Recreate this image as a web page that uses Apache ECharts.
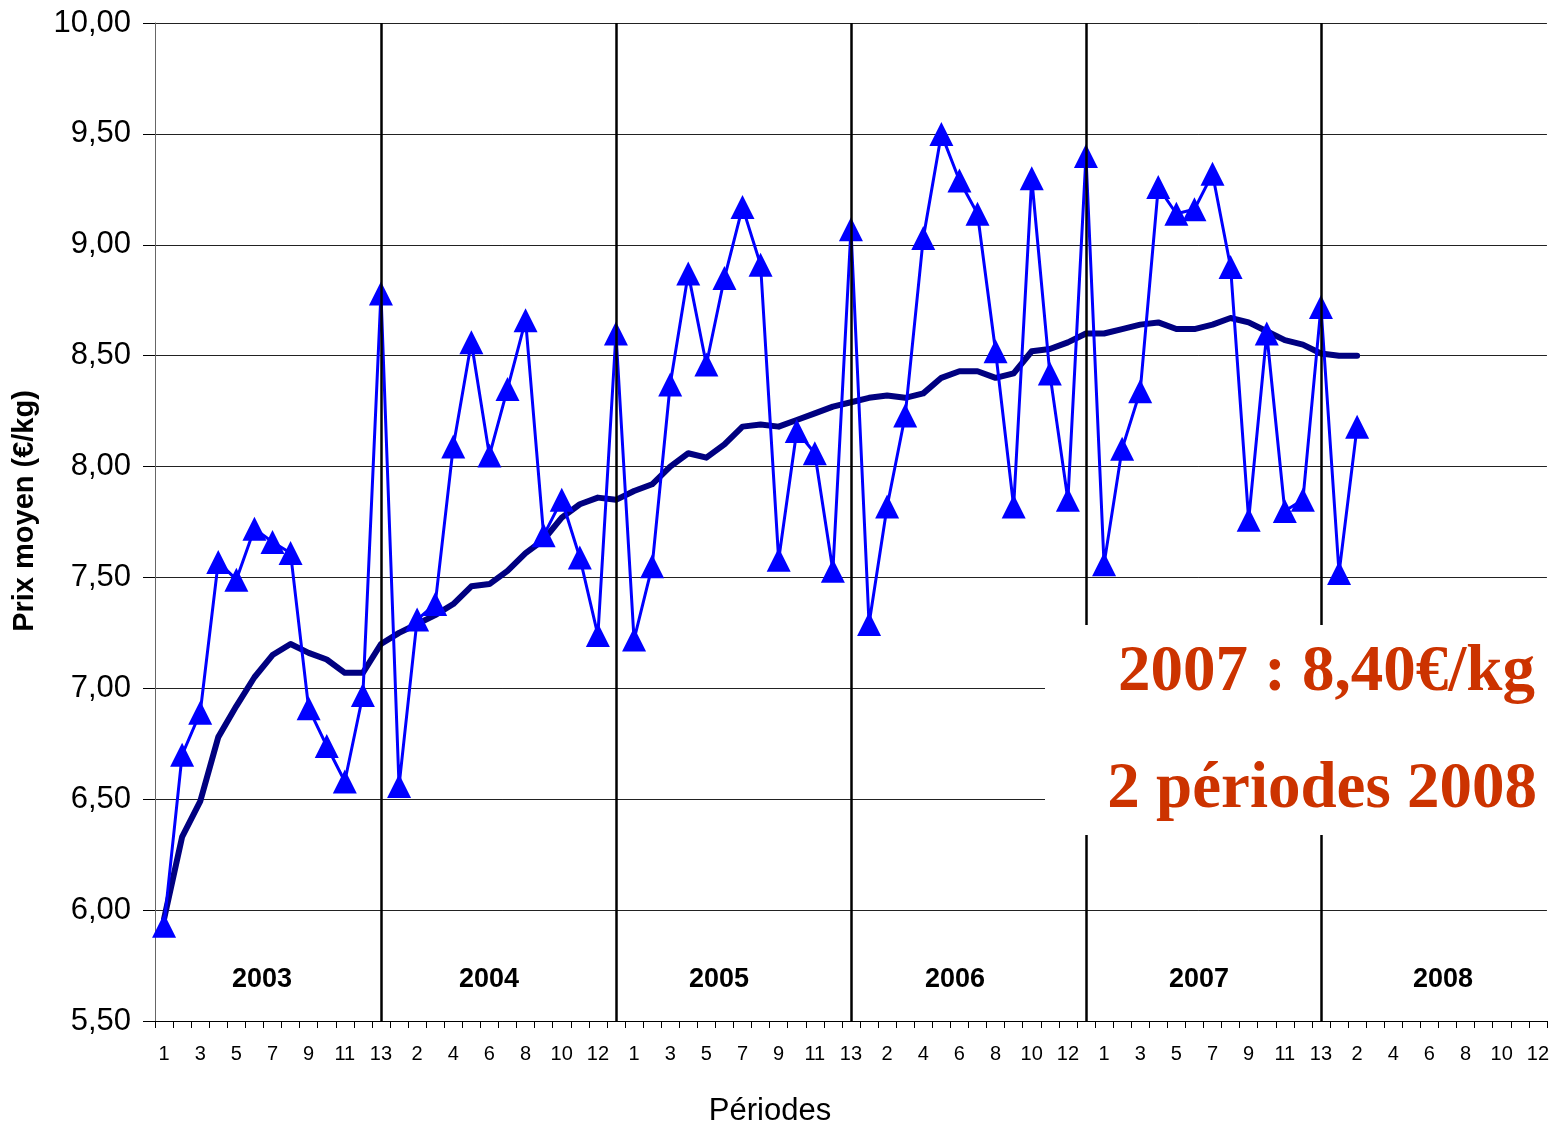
<!DOCTYPE html>
<html>
<head>
<meta charset="utf-8" />
<script src="https://cdn.jsdelivr.net/npm/echarts@6/dist/echarts.min.js"></script>
<title>Prix moyen</title>
<style>
  html, body { margin: 0; padding: 0; background: #fff; }
  #main { width: 1552px; height: 1128px; }
</style>
</head>
<body>
<div id="main"></div>
<script>
// annees et nombre de periodes par annee
var years = ['2003', '2004', '2005', '2006', '2007', '2008'];
var periodsPerYear = [13, 13, 13, 13, 13, 12];

// prix par periode (triangles bleus)
var prix2003 = [5.93, 6.70, 6.89, 7.57, 7.49, 7.72, 7.66, 7.61, 6.91, 6.74, 6.58, 6.97, 8.78];
var prix2004 = [6.56, 7.31, 7.38, 8.09, 8.56, 8.05, 8.35, 8.66, 7.69, 7.85, 7.59, 7.24, 8.60];
var prix2005 = [7.22, 7.55, 8.37, 8.87, 8.46, 8.85, 9.17, 8.91, 7.58, 8.16, 8.06, 7.53, 9.07];
var prix2006 = [7.29, 7.82, 8.23, 9.03, 9.50, 9.29, 9.14, 8.52, 7.82, 9.30, 8.42, 7.85, 9.40];
var prix2007 = [7.56, 8.08, 8.34, 9.26, 9.14, 9.16, 9.32, 8.90, 7.76, 8.60, 7.80, 7.85, 8.72];
var prix2008 = [7.52, 8.18];

// moyenne (trait epais)
var moy2003 = [5.96, 6.33, 6.49, 6.78, 6.92, 7.05, 7.15, 7.20, 7.16, 7.13, 7.07, 7.07, 7.20];
var moy2004 = [7.25, 7.29, 7.33, 7.38, 7.46, 7.47, 7.53, 7.61, 7.67, 7.77, 7.83, 7.86, 7.85];
var moy2005 = [7.89, 7.92, 8.00, 8.06, 8.04, 8.10, 8.18, 8.19, 8.18, 8.21, 8.24, 8.27, 8.29];
var moy2006 = [8.31, 8.32, 8.31, 8.33, 8.40, 8.43, 8.43, 8.40, 8.42, 8.52, 8.53, 8.56, 8.60];
var moy2007 = [8.60, 8.62, 8.64, 8.65, 8.62, 8.62, 8.64, 8.67, 8.65, 8.61, 8.57, 8.55, 8.51];
var moy2008 = [8.50, 8.50];

var annotLines = ['2007 : 8,40€/kg', '2 périodes 2008'];

// categories uniques "annee-periode"
var categories = [];
years.forEach(function (y, i) {
  for (var p = 1; p <= periodsPerYear[i]; p++) categories.push(y + '-' + p);
});
var prix = [].concat(prix2003, prix2004, prix2005, prix2006, prix2007, prix2008);
var moyenne = [].concat(moy2003, moy2004, moy2005, moy2006, moy2007, moy2008);

// separateurs sur la derniere periode de chaque annee (13)
var separators = years.slice(0, 5).map(function (y) { return { xAxis: y + '-13' }; });

// position des libelles d'annee (px)
var yearLabelX = [262, 489, 719, 955, 1199, 1443];

var chart = echarts.init(document.getElementById('main'), null, { renderer: 'canvas' });

var graphics = [
  // cadre blanc derriere le texte
  { type: 'rect', z: 100, shape: { x: 1045, y: 625, width: 510, height: 210 }, style: { fill: '#fff' } },
  { type: 'text', z: 101, x: 1535, y: 673, style: { text: annotLines[0], fill: '#CC3300', font: 'bold 65px "Liberation Serif", serif', textAlign: 'right', textVerticalAlign: 'middle' } },
  { type: 'text', z: 101, x: 1537, y: 790, style: { text: annotLines[1], fill: '#CC3300', font: 'bold 65px "Liberation Serif", serif', textAlign: 'right', textVerticalAlign: 'middle' } },
  { type: 'text', z: 101, x: 770, y: 1111, style: { text: 'Périodes', fill: '#000', font: '31px "Liberation Sans", Arial, sans-serif', textAlign: 'center', textVerticalAlign: 'middle' } },
  { type: 'text', z: 101, x: 25, y: 511, rotation: Math.PI / 2, style: { text: 'Prix moyen (€/kg)', fill: '#000', font: 'bold 29px "Liberation Sans", Arial, sans-serif', textAlign: 'center', textVerticalAlign: 'middle' } }
];
years.forEach(function (y, i) {
  graphics.push({ type: 'text', z: 101, x: yearLabelX[i], y: 980,
    style: { text: y, fill: '#000', font: 'bold 27px "Liberation Sans", Arial, sans-serif', textAlign: 'center', textVerticalAlign: 'middle' } });
});

chart.setOption({
  animation: false,
  backgroundColor: '#fff',
  grid: { left: 155, right: 3, top: 23, bottom: 107, containLabel: false },
  xAxis: {
    type: 'category',
    data: categories,
    boundaryGap: true,
    axisLine: { lineStyle: { color: '#000', width: 1 } },
    axisTick: { show: true, interval: 0, length: 7, lineStyle: { color: '#000' } },
    axisLabel: {
      interval: 1, margin: 23, color: '#000', fontSize: 20,
      fontFamily: '"Liberation Sans", Arial, sans-serif',
      formatter: function (v) { return v.split('-')[1]; }
    },
    splitLine: { show: false }
  },
  yAxis: {
    type: 'value',
    min: 5.5, max: 10, interval: 0.5,
    axisLine: { show: true, lineStyle: { color: '#666', width: 1 } },
    axisTick: { show: true, inside: false, length: 12, lineStyle: { color: '#000' } },
    axisLabel: {
      margin: 24, color: '#000', fontSize: 31,
      fontFamily: '"Liberation Sans", Arial, sans-serif',
      formatter: function (v) { return v.toFixed(2).replace('.', ','); }
    },
    splitLine: { show: true, lineStyle: { color: '#222', width: 1 } }
  },
  series: [
    {
      name: 'Moyenne',
      type: 'line',
      data: moyenne,
      symbol: 'none',
      z: 2,
      lineStyle: { color: '#000080', width: 6, join: 'round', cap: 'round' },
      markLine: {
        silent: true,
        symbol: 'none',
        label: { show: false },
        lineStyle: { color: '#000', width: 2.5, type: 'solid' },
        data: separators
      }
    },
    {
      name: 'Prix',
      type: 'line',
      data: prix,
      z: 3,
      symbol: 'triangle',
      symbolSize: [24, 24],
      showAllSymbol: true,
      itemStyle: { color: '#0000FF' },
      lineStyle: { color: '#0000FF', width: 3 }
    }
  ],
  graphic: graphics
});
</script>
</body>
</html>
